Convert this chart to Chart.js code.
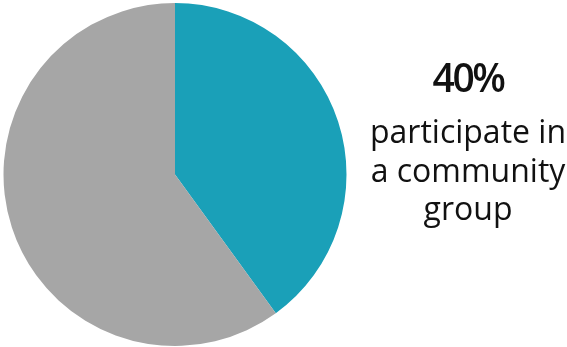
<!DOCTYPE html>
<html>
<head>
<meta charset="utf-8">
<script src="https://cdn.jsdelivr.net/npm/chart.js@4"></script>
<style>
  html, body { margin: 0; padding: 0; background: #fff; }
  #wrap { position: relative; width: 567px; height: 347px; }
  #note {
    position: absolute; left: 368px; width: 200px; top: 55px;
    text-align: center; font-family: 'Open Sans', sans-serif; color: #111;
  }
  #pct { font-weight: 600; font-size: 39px; line-height: 44px; letter-spacing: -2.5px; }
  #label { font-size: 32px; line-height: 38.5px; margin-top: 13px; }
</style>
</head>
<body>
<div id="wrap">
  <canvas id="pie" width="567" height="347"></canvas>
  <div id="note">
    <div id="pct"></div>
    <div id="label"></div>
  </div>
</div>
<script>
const categories = ['Participate in a community group', 'Do not participate'];
const shares = [40, 60];
const sliceColors = ['#1aa0b8', '#a6a6a6'];
const labelLines = ['participate in', 'a community', 'group'];

document.getElementById('pct').textContent = shares[0] + '%';
document.getElementById('label').innerHTML = labelLines.join('<br>');

const ctx = document.getElementById('pie').getContext('2d');
new Chart(ctx, {
  type: 'pie',
  data: {
    labels: categories,
    datasets: [{
      data: shares,
      backgroundColor: sliceColors,
      borderWidth: 0
    }]
  },
  options: {
    responsive: false,
    animation: false,
    layout: { padding: { left: 3, top: 3, bottom: 1, right: 220 } },
    plugins: {
      legend: { display: false },
      tooltip: { enabled: false }
    }
  }
});
</script>
</body>
</html>
